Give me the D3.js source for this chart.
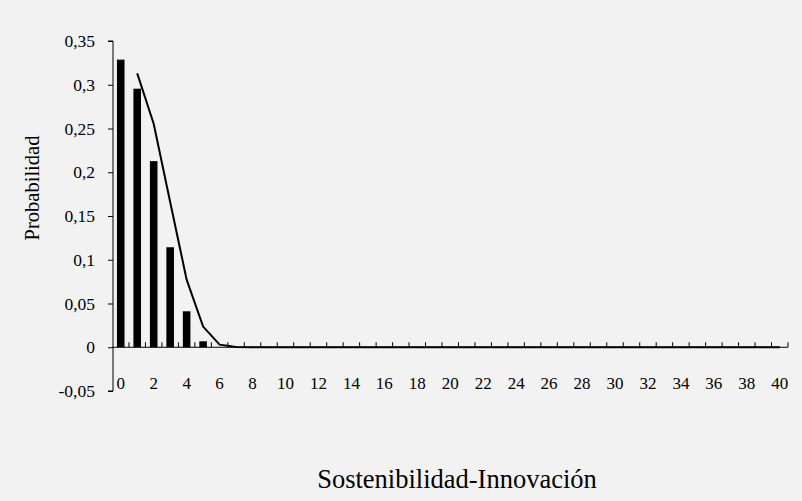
<!DOCTYPE html>
<html><head><meta charset="utf-8">
<script src="https://cdn.jsdelivr.net/npm/d3@7"></script>
<style>body{margin:0;background:#f2f2f2}svg{display:block}</style>
</head><body>
<script>
const categories = d3.range(0, 41);
const barValues = [0.3287, 0.2955, 0.2127, 0.1143, 0.0411, 0.0068, 0, 0, 0, 0, 0, 0, 0, 0, 0, 0, 0, 0, 0, 0, 0, 0, 0, 0, 0, 0, 0, 0, 0, 0, 0, 0, 0, 0, 0, 0, 0, 0, 0, 0, 0];
const lineValues = [null, 0.313, 0.2555, 0.166, 0.0773, 0.0236, 0.003, 0.0003, 0, 0, 0, 0, 0, 0, 0, 0, 0, 0, 0, 0, 0, 0, 0, 0, 0, 0, 0, 0, 0, 0, 0, 0, 0, 0, 0, 0, 0, 0, 0, 0, 0];
const yTicks = [-0.05, 0, 0.05, 0.1, 0.15, 0.2, 0.25, 0.3, 0.35];
const xLabelStep = 2;

const W = 802, H = 501;
const svg = d3.select("body").append("svg").attr("width", W).attr("height", H);
svg.append("rect").attr("width", W).attr("height", H).attr("fill", "#f2f2f2");
const font = "'Liberation Serif','Times New Roman',serif";

const x = d3.scaleBand().domain(categories).range([112.5, 788]).paddingInner(0).paddingOuter(0);
const y = d3.scaleLinear().domain([-0.05, 0.35]).range([391, 41]);
const fmt = v => (v === 0 ? "0" : String(+v.toFixed(2)).replace(".", ","));

// y axis
const gy = svg.append("g").attr("transform", "translate(113,0)")
  .call(d3.axisLeft(y).tickValues(yTicks).tickSize(5).tickPadding(13).tickFormat(fmt));
gy.select(".domain").attr("stroke", "#000").attr("d", `M-5,${y(0.35)}H0V${y(-0.05)}H-5`);
gy.selectAll("line").attr("stroke", "#000");
gy.selectAll("text").attr("font-family", font).attr("font-size", 17.5).attr("fill", "#000");

// bars
const bw = x.bandwidth() * 0.46;
svg.append("g").selectAll("rect").data(categories.filter((c,i)=>barValues[i]>0)).join("rect")
  .attr("x", c => x(c) + x.bandwidth()/2 - bw/2)
  .attr("width", bw)
  .attr("y", c => y(barValues[c]))
  .attr("height", c => y(0) - y(barValues[c]))
  .attr("fill", "#000");

// x axis
const gx = svg.append("g").attr("transform", `translate(0,${y(0)})`);
gx.append("line").attr("x1", x.range()[0]).attr("x2", x.range()[1]).attr("stroke", "#000").attr("stroke-width", 1);
gx.selectAll(".tk").data(categories.slice(1).concat([41])).join("line")
  .attr("x1", c => c === 41 ? x.range()[1] : x(c)).attr("x2", c => c === 41 ? x.range()[1] : x(c))
  .attr("y1", 0).attr("y2", -5).attr("stroke", "#000");

svg.append("g").selectAll("text").data(categories.filter(c => c % xLabelStep === 0)).join("text")
  .attr("x", c => x(c) + x.bandwidth()/2).attr("y", 389)
  .attr("text-anchor", "middle").attr("font-family", font).attr("font-size", 17).attr("fill", "#000")
  .text(c => c);

// line
const line = d3.line().defined(d => d[1] !== null)
  .x(d => x(d[0]) + x.bandwidth()/2).y(d => y(d[1]));
svg.append("path").datum(categories.map(c => [c, lineValues[c]]))
  .attr("d", line).attr("fill", "none").attr("stroke", "#000").attr("stroke-width", 2);

// titles
svg.append("text").attr("x", 457).attr("y", 488).attr("text-anchor", "middle")
  .attr("font-family", font).attr("font-size", 26.5).attr("fill", "#000").text("Sostenibilidad-Innovación");
svg.append("text").attr("transform", "translate(39,188) rotate(-90)").attr("text-anchor", "middle")
  .attr("font-family", font).attr("font-size", 20.5).attr("fill", "#000").text("Probabilidad");
</script>
</body></html>
